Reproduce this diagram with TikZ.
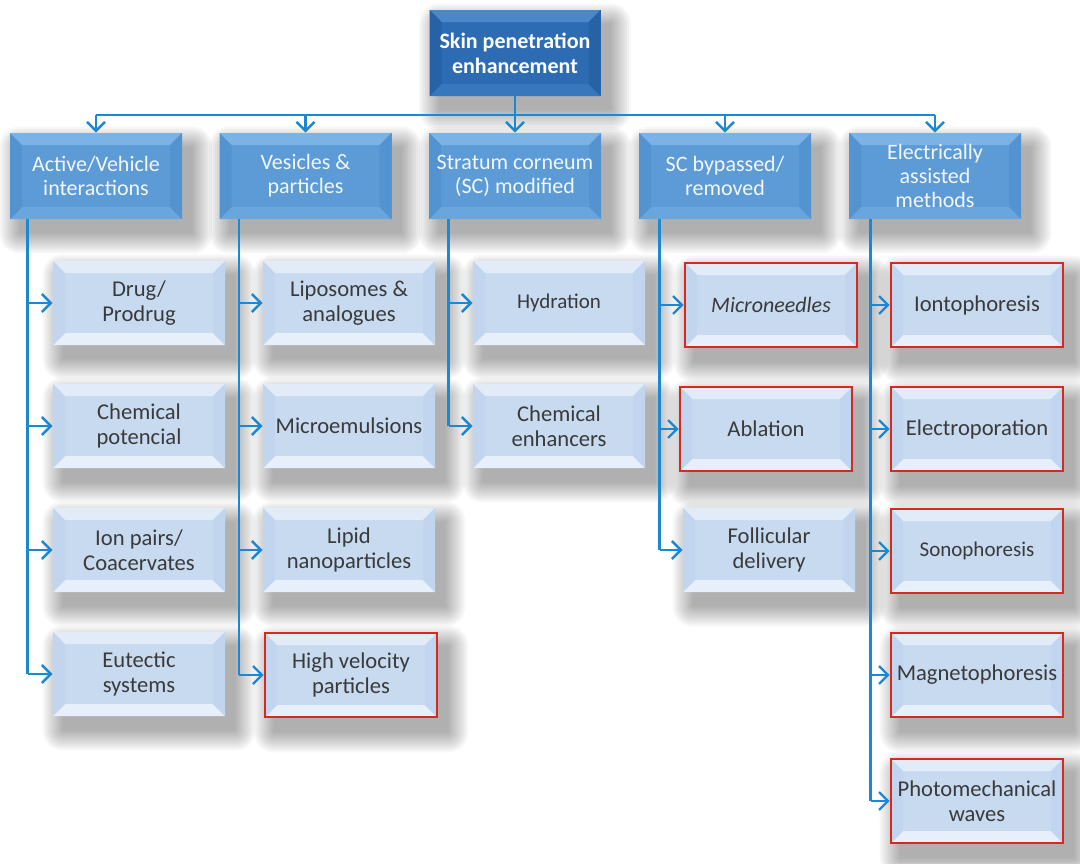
\documentclass[tikz,border=0pt]{standalone}
\usepackage{fontspec}
\setmainfont{Carlito}
\usetikzlibrary{arrows.meta}
\pgfdeclarelayer{bg}
\pgfsetlayers{bg,main}
\definecolor{linec}{HTML}{1C88D4}
\definecolor{topf}{HTML}{2D6BB2}
\definecolor{topt}{HTML}{4A88CA}
\definecolor{tops}{HTML}{2862A6}
\definecolor{topb}{HTML}{3877BC}
\definecolor{catf}{HTML}{5C9BD6}
\definecolor{catt}{HTML}{7CB3E6}
\definecolor{cats}{HTML}{5393D0}
\definecolor{catb}{HTML}{69A6DE}
\definecolor{chf}{HTML}{C8DAF0}
\definecolor{cht}{HTML}{E2ECF9}
\definecolor{chs}{HTML}{C1D5EE}
\definecolor{chb}{HTML}{E6EFFA}
\definecolor{redb}{HTML}{D52B1E}
\definecolor{chtext}{HTML}{3A3A3A}
\tikzset{
  bevel/.style n args={4}{path picture={
    \path (path picture bounding box.north west) coordinate (pa)
          (path picture bounding box.north east) coordinate (pb)
          (path picture bounding box.south east) coordinate (pc)
          (path picture bounding box.south west) coordinate (pd);
    \fill[#1] (pa) -- (pb) -- ([shift={(-6pt,-6pt)}]pb) -- ([shift={(6pt,-6pt)}]pa) -- cycle;
    \fill[#2] (pd) -- (pc) -- ([shift={(-6pt,6pt)}]pc) -- ([shift={(6pt,6pt)}]pd) -- cycle;
    \fill[#3] (pa) -- (pd) -- ([shift={(6pt,6pt)}]pd) -- ([shift={(6pt,-6pt)}]pa) -- cycle;
    \fill[#4] (pb) -- (pc) -- ([shift={(-6pt,6pt)}]pc) -- ([shift={(-6pt,-6pt)}]pb) -- cycle;
  }},
  boxbase/.style={rectangle, align=center, inner sep=2pt},
  topbox/.style={boxbase, fill=topf, bevel={topt}{topb}{tops}{tops}, text=white,
    minimum width=85.5pt, minimum height=43pt, font=\bfseries\fontsize{11}{12.5}\selectfont},
  catbox/.style={boxbase, fill=catf, bevel={catt}{catb}{cats}{cats}, text=white!92!catf,
    minimum width=86pt, minimum height=43pt, font=\fontsize{11}{12}\selectfont},
  chbox/.style={boxbase, fill=chf, bevel={cht}{chb}{chs}{chs}, text=chtext,
    minimum width=86pt, minimum height=42pt, font=\fontsize{11.3}{12.5}\selectfont},
  redbox/.style={draw=redb, line width=1.3pt},
  conn/.style={draw=linec, line width=1.2pt},
  arr/.style={conn, -{Straight Barb[length=4.5pt,width=9pt,line width=1.2pt]}},
  shadowlayer/.style={fill=black, fill opacity=0.032},
}
\begin{document}
\begin{tikzpicture}[x=0.5pt,y=-0.5pt]
\useasboundingbox (0,0) rectangle (1080,863);
% top
\node[topbox] (top) at (515,53) {Skin penetration\\enhancement};
% categories
\node[catbox] (c1) at (96,176) {Active/Vehicle\\interactions};
\node[catbox] (c2) at (305.5,176) {Vesicles \&\\particles};
\node[catbox] (c3) at (515,176) {Stratum corneum\\(SC) modified};
\node[catbox] (c4) at (725,176) {SC bypassed/\\removed};
\node[catbox] (c5) at (935,176) {Electrically\\assisted\\methods};
% column 1
\node[chbox] (a1) at (139,303) {Drug/\\Prodrug};
\node[chbox] (a2) at (139,426) {Chemical\\potencial};
\node[chbox] (a3) at (139,550) {Ion pairs/\\Coacervates};
\node[chbox] (a4) at (139,674) {Eutectic\\systems};
% column 2
\node[chbox] (b1) at (349,303) {Liposomes \&\\analogues};
\node[chbox] (b2) at (349,426) {Microemulsions};
\node[chbox] (b3) at (349,550) {Lipid\\nanoparticles};
\node[chbox,redbox] (b4) at (351,675) {High velocity\\particles};
% column 3
\node[chbox,font=\fontsize{10.5}{12}\selectfont] (d1) at (559,303) {Hydration};
\node[chbox] (d2) at (559,426) {Chemical\\enhancers};
% column 4
\node[chbox,redbox,font=\itshape\fontsize{11}{12.5}\selectfont] (e1) at (771,305) {Microneedles};
\node[chbox,redbox] (e2) at (766,429) {Ablation};
\node[chbox] (e3) at (769,550) {Follicular\\delivery};
% column 5
\node[chbox,redbox] (f1) at (977,305) {Iontophoresis};
\node[chbox,redbox] (f2) at (977,429) {Electroporation};
\node[chbox,redbox,font=\fontsize{10.5}{12}\selectfont] (f3) at (977,551) {Sonophoresis};
\node[chbox,redbox] (f4) at (977,675) {Magnetophoresis};
\node[chbox,redbox] (f5) at (977,801) {Photomechanical\\waves};
% shadows
\begin{pgfonlayer}{bg}
\fill[white] (0,0) rectangle (1080,863);
\foreach \n in {top,c1,c2,c3,c4,c5,a1,a2,a3,a4,b1,b2,b3,b4,d1,d2,e1,e2,e3,f1,f2,f3,f4,f5}
  \foreach \k in {0,...,10}
    \fill[shadowlayer, rounded corners={\k*1pt+0.1pt}]
      ([shift={({5pt-\k*1pt},{-7pt-\k*1pt})}]\n.south west) rectangle
      ([shift={({5pt+\k*1pt},{-7pt+\k*1pt})}]\n.north east);
\end{pgfonlayer}
% bus
\coordinate (bus) at (515,115);
\draw[conn] (top.south) -- (bus);
\draw[conn] (c1.north |- bus) -- (c5.north |- bus);
\foreach \c in {c1,c2,c3,c4,c5} \draw[arr] (\c.north |- bus) -- (\c.north);
% spines
\coordinate (s1) at ([xshift=9pt]c1.south west);
\coordinate (s2) at ([xshift=10pt]c2.south west);
\coordinate (s3) at ([xshift=10pt]c3.south west);
\coordinate (s4) at ([xshift=10.5pt]c4.south west);
\coordinate (s5) at ([xshift=11pt]c5.south west);
\draw[conn] (s1) -- (s1 |- a4.west);
\draw[conn] (s2) -- (s2 |- b4.west);
\draw[conn] (s3) -- (s3 |- d2.west);
\draw[conn] (s4) -- (s4 |- e3.west);
\draw[conn] (s5) -- (s5 |- f5.west);
\foreach \n in {a1,a2,a3,a4} \draw[arr] (s1 |- \n.west) -- (\n.west);
\foreach \n in {b1,b2,b3,b4} \draw[arr] (s2 |- \n.west) -- (\n.west);
\foreach \n in {d1,d2} \draw[arr] (s3 |- \n.west) -- (\n.west);
\foreach \n in {e1,e2,e3} \draw[arr] (s4 |- \n.west) -- (\n.west);
\foreach \n in {f1,f2,f3,f4,f5} \draw[arr] (s5 |- \n.west) -- (\n.west);
\end{tikzpicture}
\end{document}
